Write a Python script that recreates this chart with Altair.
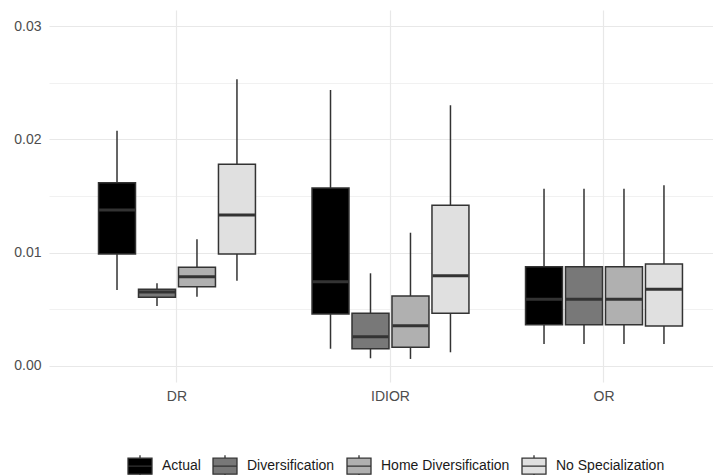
import altair as alt
import pandas as pd

groups = ["DR", "IDIOR", "OR"]
series = ["Actual", "Diversification", "Home Diversification", "No Specialization"]
colors = ["#000000", "#787878", "#b0b0b0", "#e0e0e0"]

# per group, per series (order of `series`)
whisker_low = {
    "DR":    [0.00668, 0.00527, 0.00609, 0.00750],
    "IDIOR": [0.00149, 0.00064, 0.00058, 0.00117],
    "OR":    [0.00190, 0.00190, 0.00190, 0.00190],
}
q1 = {
    "DR":    [0.00987, 0.00603, 0.00697, 0.00987],
    "IDIOR": [0.00456, 0.00149, 0.00161, 0.00462],
    "OR":    [0.00361, 0.00361, 0.00361, 0.00350],
}
median = {
    "DR":    [0.01376, 0.00650, 0.00786, 0.01332],
    "IDIOR": [0.00742, 0.00255, 0.00352, 0.00795],
    "OR":    [0.00586, 0.00586, 0.00586, 0.00674],
}
q3 = {
    "DR":    [0.01618, 0.00674, 0.00869, 0.01780],
    "IDIOR": [0.01571, 0.00462, 0.00615, 0.01418],
    "OR":    [0.00874, 0.00874, 0.00874, 0.00898],
}
whisker_high = {
    "DR":    [0.02078, 0.00727, 0.01117, 0.02533],
    "IDIOR": [0.02438, 0.00816, 0.01175, 0.02303],
    "OR":    [0.01565, 0.01565, 0.01565, 0.01595],
}
y_ticks = [0.0, 0.005, 0.01, 0.015, 0.02, 0.025, 0.03]

rows = []
for g in groups:
    for i, s in enumerate(series):
        rows.append({
            "group": g, "series": s,
            "lo": whisker_low[g][i], "q1": q1[g][i], "med": median[g][i],
            "q3": q3[g][i], "hi": whisker_high[g][i],
        })
df = pd.DataFrame(rows)

FONT = "Liberation Sans"
x_scale = alt.Scale(domain=groups, paddingInner=0, paddingOuter=0.055, align=0.904)
xo_scale = alt.Scale(domain=series, paddingInner=0.075, paddingOuter=0.7075)
y_scale = alt.Scale(domain=[-0.00146, 0.03146], nice=False, zero=False)

x_axis = alt.Axis(labelAngle=0, domain=False, ticks=False, grid=True,
                  gridColor="#e8e8e8", gridWidth=1.2,
                  labelFont=FONT, labelFontSize=14, labelColor="#4d4d4d",
                  labelPadding=7, title=None)
x_enc = alt.X("group:N", scale=x_scale, sort=groups, axis=x_axis)
xo_enc = alt.XOffset("series:N", scale=xo_scale, sort=series)

major = "round(datum.value*1000) % 10 == 0"
y_axis = alt.Axis(values=y_ticks, domain=False, ticks=False, grid=True,
                  gridColor="#e8e8e8",
                  gridWidth={"condition": {"test": major, "value": 1.2}, "value": 0.6},
                  labelExpr=f"{major} ? format(datum.value, '.2f') : ''",
                  labelFont=FONT, labelFontSize=14, labelColor="#4d4d4d",
                  labelPadding=8, title=None)

base = alt.Chart(df)

whiskers = base.mark_rule(color="#333333", strokeWidth=1.5).encode(
    x=x_enc, xOffset=xo_enc,
    y=alt.Y("lo:Q", scale=y_scale, axis=y_axis, title=None), y2="hi:Q",
)

legend_path = "M-1,-0.667H1V0.667H-1Z M-1,0H1 M0,-0.667V-0.92 M0,0.667V0.92"
boxes = base.mark_bar(stroke="#333333", strokeWidth=1.5, opacity=1).encode(
    x=x_enc, xOffset=xo_enc,
    y=alt.Y("q1:Q", scale=y_scale, axis=y_axis, title=None), y2="q3:Q",
    fill=alt.Fill("series:N", sort=series,
                  scale=alt.Scale(domain=series, range=colors),
                  legend=alt.Legend(title=None, orient="none", direction="horizontal",
                                    legendX=78, legendY=443,
                                    symbolType=legend_path, symbolSize=576,
                                    symbolStrokeColor="#333333", symbolStrokeWidth=1.3,
                                    symbolOpacity=1,
                                    labelFont=FONT, labelFontSize=14, labelColor="#1a1a1a",
                                    labelOffset=9, columnPadding=9, padding=0)),
)

medians = base.mark_tick(color="#333333", thickness=3, size=36, orient="horizontal",
                         opacity=1).encode(
    x=x_enc, xOffset=xo_enc,
    y=alt.Y("med:Q", scale=y_scale, axis=y_axis, title=None),
)

chart = alt.layer(whiskers, boxes, medians).properties(
    width=664, height=372,
    padding={"left": 5, "top": 2, "right": 0, "bottom": 0},
).configure(background="white").configure_view(stroke=None)

chart.save("out.html", embed_options={"renderer": "svg", "actions": False})
